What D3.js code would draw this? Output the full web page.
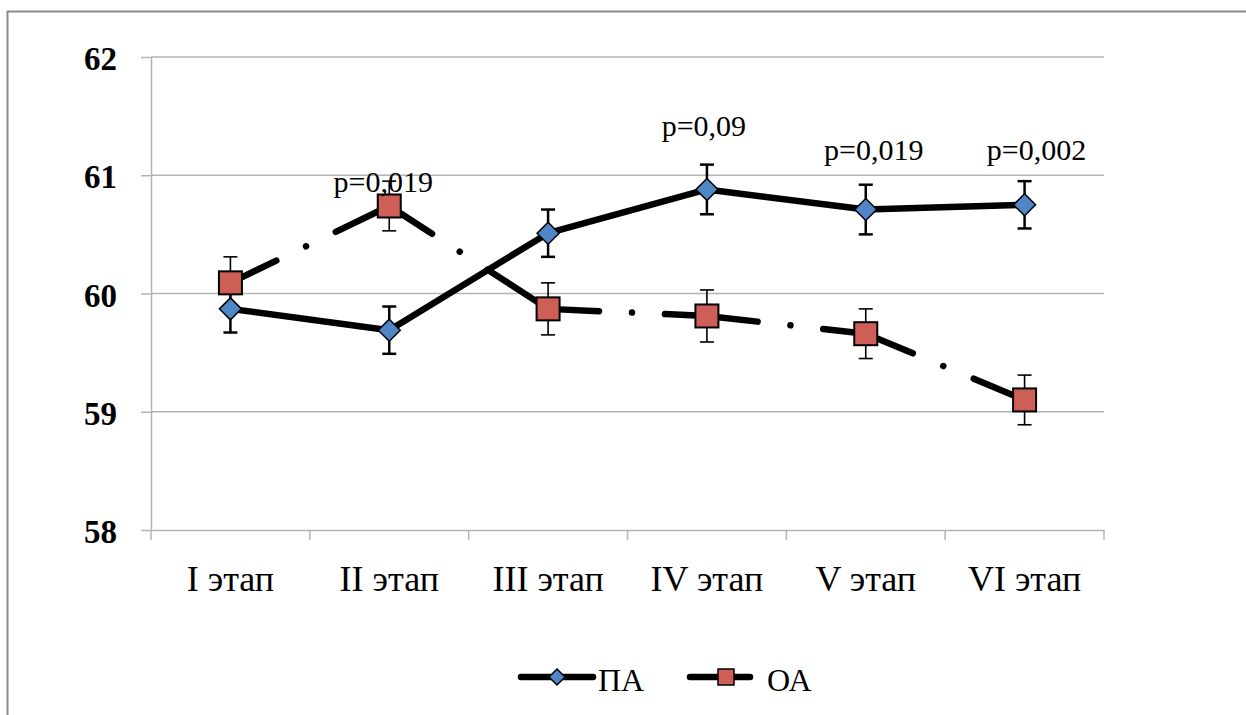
<!DOCTYPE html>
<html>
<head>
<meta charset="utf-8">
<script src="https://cdn.jsdelivr.net/npm/d3@7"></script>
<style>
  body { margin: 0; background: #fff; }
  svg { display: block; }
</style>
</head>
<body>
<div id="chart"></div>
<script>
// Data
const stages = ["I этап", "II этап", "III этап", "IV этап", "V этап", "VI этап"];
const paValues = [59.87, 59.69, 60.51, 60.88, 60.71, 60.75];
const paErrors = [0.2, 0.2, 0.2, 0.21, 0.21, 0.2];
const oaValues = [60.09, 60.74, 59.87, 59.81, 59.66, 59.10];
const oaErrors = [0.22, 0.21, 0.22, 0.22, 0.21, 0.21];
const yTicks = [58, 59, 60, 61, 62];
const pLabels = [
    { stage: "II этап", text: "p=0,019", value: 60.86, dx: -6 },
    { stage: "IV этап", text: "p=0,09", value: 61.33, dx: -3 },
    { stage: "V этап", text: "p=0,019", value: 61.13, dx: 8 },
    { stage: "VI этап", text: "p=0,002", value: 61.13, dx: 12 }
];

const width = 1246, height = 715;
const margin = { top: 57, right: 142, bottom: 185, left: 151 };
const font_family = "'Liberation Serif', 'Times New Roman', serif";
const gridColor = '#b4b4b4';
const paColor = '#4f86c6';
const oaColor = '#cd5f57';

const svg = d3.select("#chart").append("svg")
    .attr("width", width)
    .attr("height", height);

// outer chart frame (runs off the right and bottom)
svg.append("rect")
    .attr("x", 7.5).attr("y", 11.5)
    .attr("width", width + 20).attr("height", height + 20)
    .attr("fill", "none")
    .attr("stroke", "#8a8a8a")
    .attr("stroke-width", 2);

const xScale = d3.scaleBand()
    .domain(stages)
    .range([margin.left, width - margin.right])
    .padding(0);
const cx = d => xScale(d) + xScale.bandwidth() / 2;

const yScale = d3.scaleLinear()
    .domain([58, 62])
    .range([height - margin.bottom, margin.top]);

// gridlines
svg.append("g").attr("class", "grid")
    .selectAll("line")
    .data(yTicks.slice(1))
    .join("line")
    .attr("x1", margin.left).attr("x2", width - margin.right)
    .attr("y1", d => yScale(d)).attr("y2", d => yScale(d))
    .attr("stroke", gridColor).attr("stroke-width", 1.5);

// y axis
const yAxis = svg.append("g")
    .attr("transform", `translate(${margin.left},0)`)
    .call(d3.axisLeft(yScale).tickValues(yTicks).tickFormat(d3.format("d"))
        .tickSize(10).tickSizeOuter(0).tickPadding(24));
yAxis.select(".domain").attr("stroke", gridColor).attr("stroke-width", 1.5);
yAxis.selectAll(".tick line").attr("stroke", gridColor).attr("stroke-width", 1.5);
yAxis.selectAll("text")
    .style("font-family", font_family)
    .style("font-size", "33px")
    .style("font-weight", "bold")
    .attr("fill", "#000")
    .attr("dy", "0.38em");

// x axis
const xAxis = svg.append("g")
    .attr("transform", `translate(0,${yScale(58)})`)
    .call(d3.axisBottom(xScale).tickSize(0).tickPadding(35));
xAxis.select(".domain").attr("stroke", gridColor).attr("stroke-width", 1.5);
xAxis.selectAll("text")
    .style("font-family", font_family)
    .style("font-size", "36px")
    .attr("fill", "#000");

// category boundary ticks
const bounds = stages.map(s => xScale(s)).concat([xScale.range()[1]]);
xAxis.selectAll("line.bound")
    .data(bounds)
    .join("line")
    .attr("class", "bound")
    .attr("x1", d => d).attr("x2", d => d)
    .attr("y1", 0).attr("y2", 10)
    .attr("stroke", gridColor).attr("stroke-width", 1.5);

const paPts = stages.map((s, i) => ({ x: cx(s), y: yScale(paValues[i]), v: paValues[i], e: paErrors[i] }));
const oaPts = stages.map((s, i) => ({ x: cx(s), y: yScale(oaValues[i]), v: oaValues[i], e: oaErrors[i] }));

// PA solid line
svg.append("path")
    .attr("d", d3.line().x(d => d.x).y(d => d.y)(paPts))
    .attr("fill", "none")
    .attr("stroke", "#000")
    .attr("stroke-width", 6.5)
    .attr("stroke-linejoin", "round");

// OA long-dash-dot line, pattern restarts on every segment
const oaSegs = d3.pairs(oaPts);
svg.append("g").selectAll("line")
    .data(oaSegs)
    .join("line")
    .attr("x1", d => d[0].x).attr("y1", d => d[0].y)
    .attr("x2", d => d[1].x).attr("y2", d => d[1].y)
    .attr("stroke", "#000")
    .attr("stroke-width", 6.5)
    .attr("stroke-linecap", "round")
    .attr("stroke-dasharray", "51,33,0.01,33,1000,10");

// error bars
function errorBars(pts, sw) {
    const g = svg.append("g");
    g.selectAll("line.stem").data(pts).join("line")
        .attr("class", "stem")
        .attr("x1", d => d.x).attr("x2", d => d.x)
        .attr("y1", d => yScale(d.v + d.e)).attr("y2", d => yScale(d.v - d.e))
        .attr("stroke", "#000").attr("stroke-width", sw);
    g.selectAll("line.capTop").data(pts).join("line")
        .attr("class", "capTop")
        .attr("x1", d => d.x - 7).attr("x2", d => d.x + 7)
        .attr("y1", d => yScale(d.v + d.e)).attr("y2", d => yScale(d.v + d.e))
        .attr("stroke", "#000").attr("stroke-width", sw);
    g.selectAll("line.capBot").data(pts).join("line")
        .attr("class", "capBot")
        .attr("x1", d => d.x - 7).attr("x2", d => d.x + 7)
        .attr("y1", d => yScale(d.v - d.e)).attr("y2", d => yScale(d.v - d.e))
        .attr("stroke", "#000").attr("stroke-width", sw);
}
errorBars(paPts, 2.5);
errorBars(oaPts, 1.6);

// markers
const diamond = r => `M0,${-r}L${r},0L0,${r}L${-r},0Z`;
svg.append("g").selectAll("path")
    .data(paPts)
    .join("path")
    .attr("transform", d => `translate(${d.x},${d.y})`)
    .attr("d", diamond(11))
    .attr("fill", paColor)
    .attr("stroke", "#000")
    .attr("stroke-width", 1.5);

svg.append("g").selectAll("rect")
    .data(oaPts)
    .join("rect")
    .attr("x", d => d.x - 11.5).attr("y", d => d.y - 11.5)
    .attr("width", 23).attr("height", 23)
    .attr("fill", oaColor)
    .attr("stroke", "#000")
    .attr("stroke-width", 2);

// p-value labels
svg.append("g").selectAll("text")
    .data(pLabels)
    .join("text")
    .attr("x", d => cx(d.stage) + d.dx)
    .attr("y", d => yScale(d.value))
    .attr("text-anchor", "middle")
    .attr("font-family", font_family)
    .attr("font-size", "30px")
    .attr("fill", "#000")
    .text(d => d.text);

// legend
const legend = svg.append("g").attr("transform", "translate(0,677)");
const legPA = legend.append("g").attr("transform", "translate(521,0)");
legPA.append("line").attr("x1", 0).attr("x2", 72).attr("y1", 0).attr("y2", 0)
    .attr("stroke", "#000").attr("stroke-width", 6.5).attr("stroke-linecap", "round");
legPA.append("path").attr("transform", "translate(36,0)").attr("d", diamond(8))
    .attr("fill", paColor).attr("stroke", "#000").attr("stroke-width", 1.5);
legPA.append("text").attr("x", 77).attr("y", 14)
    .attr("font-family", font_family).attr("font-size", "32px").attr("fill", "#000")
    .text("ПА");

const legOA = legend.append("g").attr("transform", "translate(690,0)");
legOA.append("line").attr("x1", 0).attr("x2", 60).attr("y1", 0).attr("y2", 0)
    .attr("stroke", "#000").attr("stroke-width", 6.5).attr("stroke-linecap", "round");
legOA.append("rect").attr("x", 28).attr("y", -8).attr("width", 16).attr("height", 16)
    .attr("fill", oaColor).attr("stroke", "#000").attr("stroke-width", 1.5);
legOA.append("text").attr("x", 77).attr("y", 14)
    .attr("font-family", font_family).attr("font-size", "32px").attr("fill", "#000")
    .text("ОА");
</script>
</body>
</html>
